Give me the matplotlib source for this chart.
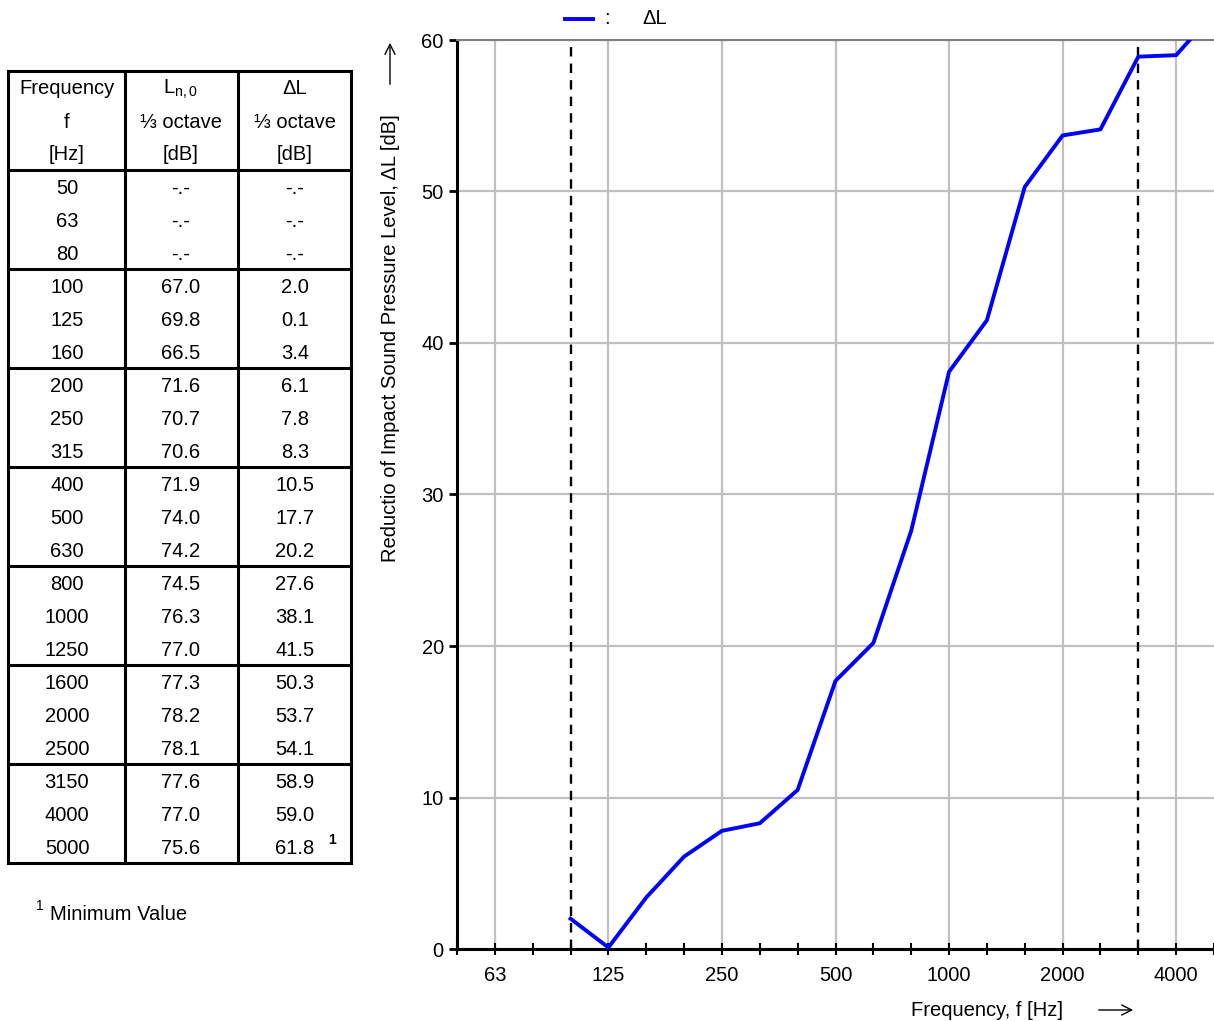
import numpy as np
import matplotlib
matplotlib.use('Agg')
import matplotlib.pyplot as plt

plt.rcParams['font.family'] = ['Liberation Sans', 'DejaVu Sans']

# one-third octave bands, 50 Hz .. 5000 Hz
freqs = ['50', '63', '80', '100', '125', '160', '200', '250', '315', '400', '500',
         '630', '800', '1000', '1250', '1600', '2000', '2500', '3150', '4000', '5000']
ln0 = ['-.-', '-.-', '-.-', '67.0', '69.8', '66.5', '71.6', '70.7', '70.6', '71.9', '74.0',
       '74.2', '74.5', '76.3', '77.0', '77.3', '78.2', '78.1', '77.6', '77.0', '75.6']
dl_txt = ['-.-', '-.-', '-.-', '2.0', '0.1', '3.4', '6.1', '7.8', '8.3', '10.5', '17.7',
          '20.2', '27.6', '38.1', '41.5', '50.3', '53.7', '54.1', '58.9', '59.0', '61.8']
dl = [np.nan, np.nan, np.nan, 2.0, 0.1, 3.4, 6.1, 7.8, 8.3, 10.5, 17.7,
      20.2, 27.6, 38.1, 41.5, 50.3, 53.7, 54.1, 58.9, 59.0, 61.8]
header = [['Frequency', 'f', '[Hz]'],
          [r'L$_{\mathregular{n,0}}$', '⅓ octave', '[dB]'],
          ['ΔL', '⅓ octave', '[dB]']]
xlabels = {1: '63', 4: '125', 7: '250', 10: '500', 13: '1000', 16: '2000', 19: '4000'}
limits = [3, 18]   # 100 Hz and 3150 Hz

W, H = 1214, 1021
fig = plt.figure(figsize=(W / 100, H / 100), dpi=100)

# background axes in pixel coordinates for the table and free text
bg = fig.add_axes([0, 0, 1, 1])
bg.set_xlim(0, W)
bg.set_ylim(H, 0)
bg.axis('off')

fs = 14.5
colx = [8, 125, 238, 351]
colc = [67, 181, 295]
top = 71
rowh = 33
# table borders
for x in colx:
  bg.plot([x, x], [top, top + 3 * rowh + 21 * rowh], color='black', lw=2.2, solid_capstyle='projecting')
hl = [top, top + 3 * rowh] + [top + 3 * rowh + 3 * rowh * k for k in range(1, 8)]
for y in hl:
  bg.plot([colx[0], colx[-1]], [y, y], color='black', lw=2.2, solid_capstyle='projecting')

for c in range(3):
  for r in range(3):
    bg.text(colc[c], top + 18 + r * rowh, header[c][r], ha='center', va='center', fontsize=fs)
for i in range(len(freqs)):
  y = top + 3 * rowh + 18 + i * rowh
  bg.text(colc[0], y, freqs[i], ha='center', va='center', fontsize=fs)
  bg.text(colc[1], y, ln0[i], ha='center', va='center', fontsize=fs)
  bg.text(colc[2], y, dl_txt[i], ha='center', va='center', fontsize=fs)
bg.text(332, 840, '1', ha='center', va='center', fontsize=10, fontweight='bold')
bg.text(40, 906, '1', ha='center', va='center', fontsize=10)
bg.text(50, 914, 'Minimum Value', ha='left', va='center', fontsize=fs)

# legend on top
bg.plot([565, 593], [19, 19], color='#0000ff', lw=2.8)
bg.text(607, 19, ':', ha='center', va='center', fontsize=fs)
bg.text(655, 19, 'ΔL', ha='center', va='center', fontsize=fs)

# axis labels
bg.text(390, 338, 'Reductio of Impact Sound Pressure Level, ΔL [dB]', rotation=90,
        ha='center', va='center', fontsize=fs)
bg.annotate('', xy=(390, 40), xytext=(390, 87),
            arrowprops=dict(arrowstyle='->', lw=1.0, color='black', mutation_scale=18))
bg.text(987, 1010, 'Frequency, f [Hz]', ha='center', va='center', fontsize=fs)
bg.annotate('', xy=(1136, 1010), xytext=(1096, 1010),
            arrowprops=dict(arrowstyle='->', lw=1.0, color='black', mutation_scale=18))

# the chart
ax = fig.add_axes([457 / W, 1 - 949 / H, (W - 457) / W, (949 - 40) / H])
idx = np.arange(len(freqs))
ax.plot(idx, dl, color='#0000ff', lw=2.8, zorder=4, clip_on=True)
for k in limits:
  ax.axvline(k, color='black', lw=1.7, ls=(0, (4, 3)), zorder=3)

ax.set_xlim(0, (W - 457) / 37.94)
ax.set_ylim(0, 60)
ax.set_xticks(list(xlabels.keys()))
ax.set_xticklabels(list(xlabels.values()), fontsize=fs)
ax.set_xticks(idx, minor=True)
ax.set_yticks([0, 10, 20, 30, 40, 50, 60])
ax.tick_params(axis='y', labelsize=fs, direction='out', length=6, width=2)
ax.tick_params(axis='x', which='both', direction='inout', length=9, width=1.5, pad=8)
ax.grid(True, color='#c0c0c0', lw=1.6, zorder=0)
ax.set_axisbelow(True)
ax.spines['left'].set_linewidth(2.2)
ax.spines['bottom'].set_linewidth(2.2)
ax.spines['top'].set_color('#808080')
ax.spines['top'].set_linewidth(1.5)
ax.spines['right'].set_visible(False)

plt.savefig('out.png', dpi=100)
